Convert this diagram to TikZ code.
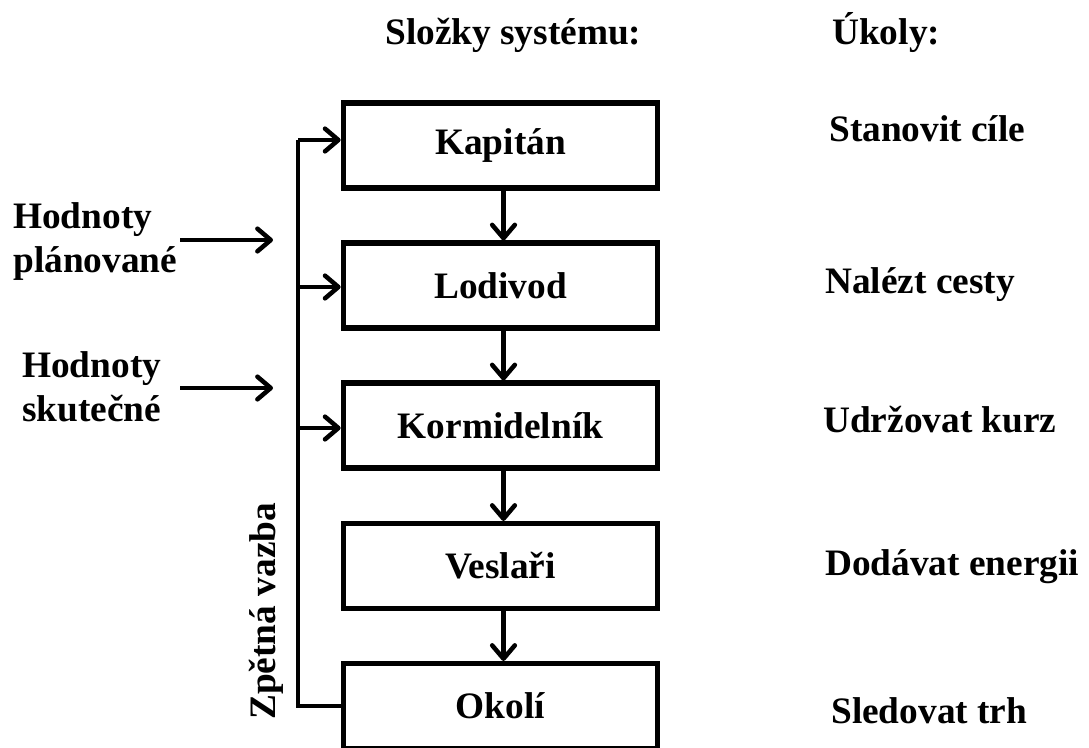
\documentclass[tikz,border=0pt]{standalone}
\usepackage{fontspec}
\setmainfont{Liberation Serif}
\usetikzlibrary{arrows.meta}
\begin{document}
\begin{tikzpicture}[x=0.75pt,y=-0.75pt,
  txt/.style={font=\fontsize{28}{32}\selectfont\bfseries, inner sep=0pt},
  lbl/.style={txt, anchor=base west},
  box/.style={draw, line width=3.8pt, minimum width=236pt, minimum height=63.75pt, txt},
  arr/.style={line width=3.2pt, -{Straight Barb[length=10pt,width=17pt,line width=3.4pt,round]}},
  ln/.style={line width=3.2pt}]
\useasboundingbox (0,0) rectangle (1089,747);
\node[lbl] (h1) at (385,44) {Složky systému:};
\node[lbl] (h2) at (832,44) {Úkoly:};
\node[box] (kap) at (500.5,145.5) {Kapitán};
\node[box] (lod) at (500.5,285.5) {Lodivod};
\node[box] (kor) at (500.5,425.5) {Kormidelník};
\node[box] (ves) at (500.5,566) {Veslaři};
\node[box] (oko) at (500.5,706) {Okolí};
\draw[arr] ([xshift=2.25pt]kap.south) -- ([xshift=2.25pt]lod.north);
\draw[arr] ([xshift=2.25pt]lod.south) -- ([xshift=2.25pt]kor.north);
\draw[arr] ([xshift=2.25pt]kor.south) -- ([xshift=2.25pt]ves.north);
\draw[arr] ([xshift=2.25pt]ves.south) -- ([xshift=2.25pt]oko.north);
\coordinate (fbtop) at (298,140);
\coordinate (fb2) at (298,287);
\coordinate (fb3) at (298,428);
\draw[ln, line join=miter] (oko.west) -| (fbtop);
\draw[arr] (fbtop) -- (kap.west |- fbtop);
\draw[arr] (fb2) -- (lod.west |- fb2);
\draw[arr] (fb3) -- (kor.west |- fb3);
\node[txt, rotate=90, anchor=base west] (zv) at (275,720) {Zpětná vazba};
\node[lbl] (hp1) at (13,228) {Hodnoty};
\node[lbl] (hp2) at (13,272) {plánované};
\node[lbl] (hs1) at (22,377) {Hodnoty};
\node[lbl] (hs2) at (22,421) {skutečné};
\coordinate (o1) at (180,240);
\coordinate (o2) at (180,388);
\coordinate (in1) at (273,240);
\coordinate (in2) at (273,388);
\draw[arr] (o1) -- (in1);
\draw[arr] (o2) -- (in2);
\node[lbl] (t1) at (829,141) {Stanovit cíle};
\node[lbl] (t2) at (825,293) {Nalézt cesty};
\node[lbl] (t3) at (823,432) {Udržovat kurz};
\node[lbl] (t4) at (825,575) {Dodávat energii};
\node[lbl] (t5) at (831,723) {Sledovat trh};
\end{tikzpicture}
\end{document}
